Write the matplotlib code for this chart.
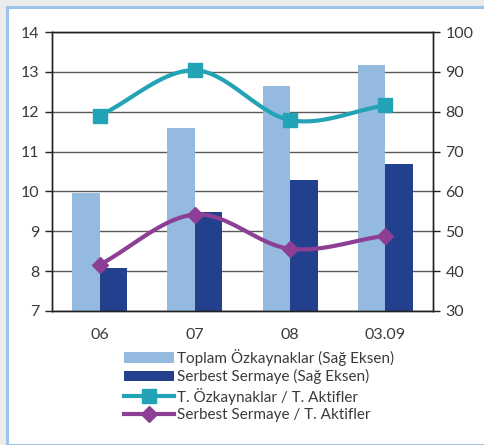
import numpy as np
import matplotlib
matplotlib.use("Agg")
import matplotlib.pyplot as plt
from matplotlib.patches import Rectangle
from matplotlib.lines import Line2D

# Data
categories = ["06", "07", "08", "03.09"]
toplam_ozkaynak = [59.6, 76.0, 86.5, 91.7]      # right axis
serbest_sermaye = [40.9, 54.8, 62.8, 67.0]      # right axis
ozk_aktif = [11.90, 13.04, 11.79, 12.16]        # left axis
serbest_aktif = [8.16, 9.42, 8.56, 8.89]        # left axis

labels = ["Toplam Özkaynaklar (Sağ Eksen)",
          "Serbest Sermaye (Sağ Eksen)",
          "T. Özkaynaklar / T. Aktifler",
          "Serbest Sermaye / T. Aktifler"]

c_light = "#95badf"
c_dark = "#23408e"
c_teal = "#23a3b6"
c_purple = "#8c3f95"
txt = "#3a3a3a"

plt.rcParams["font.family"] = ["Lato", "DejaVu Sans"]


def smooth(xs, ys, n=40):
    """Catmull-Rom curve through the given points."""
    xs = np.asarray(xs, float)
    ys = np.asarray(ys, float)
    px = np.concatenate([[2 * xs[0] - xs[1]], xs, [2 * xs[-1] - xs[-2]]])
    py = np.concatenate([[2 * ys[0] - ys[1]], ys, [2 * ys[-1] - ys[-2]]])
    ox, oy = [], []
    t = np.linspace(0, 1, n)
    for i in range(1, len(px) - 2):
        for p, o in ((px, ox), (py, oy)):
            p0, p1, p2, p3 = p[i - 1], p[i], p[i + 1], p[i + 2]
            seg = 0.5 * ((2 * p1) + (-p0 + p2) * t
                         + (2 * p0 - 5 * p1 + 4 * p2 - p3) * t ** 2
                         + (-p0 + 3 * p1 - 3 * p2 + p3) * t ** 3)
            o.extend(seg if i == 1 else seg[1:])
    return np.array(ox), np.array(oy)


fig = plt.figure(figsize=(4.84, 4.45), dpi=100)
fig.patch.set_facecolor("#ebebeb")
# white panel with a light-blue frame
fig.patches.append(Rectangle((7 / 484, 0), 1, 1 - 7 / 445, transform=fig.transFigure,
                             facecolor="white", edgecolor="#9cc3e8", linewidth=2.2,
                             zorder=-5))

ax_b = fig.add_axes([52 / 484, 1 - 311 / 445, 381 / 484, 279 / 445])
ax_l = ax_b.twinx()
ax_b.patch.set_visible(False)

x = np.arange(len(categories))
w = 0.29
h1 = ax_b.bar(x - w / 2, toplam_ozkaynak, width=w, color=c_light, zorder=2)
h2 = ax_b.bar(x + w / 2, serbest_sermaye, width=w, color=c_dark, zorder=2)
ax_b.set_ylim(30, 100)
ax_b.set_yticks(np.arange(30, 101, 10))
ax_b.set_xlim(-0.5, len(categories) - 0.5)
ax_b.set_xticks(x)
ax_b.set_xticklabels(categories)
ax_b.yaxis.grid(True, color="#5a5a5a", linewidth=1.0, zorder=0)
ax_b.set_axisbelow(True)

ax_l.set_ylim(7, 14)
ax_l.set_yticks(np.arange(7, 15, 1))

sx, sy = smooth(x, ozk_aktif)
ax_l.plot(sx, sy, color=c_teal, lw=3.0, solid_capstyle="round")
ax_l.plot(x, ozk_aktif, ls="none", marker="s", ms=9.5, color=c_teal)
sx, sy = smooth(x, serbest_aktif)
ax_l.plot(sx, sy, color=c_purple, lw=3.0, solid_capstyle="round")
ax_l.plot(x, serbest_aktif, ls="none", marker="D", ms=8, color=c_purple)

# left axis for ratios, right axis for amounts
ax_b.yaxis.tick_right()
ax_l.yaxis.tick_left()
for a in (ax_b, ax_l):
    for s in a.spines.values():
        s.set_color("#222222")
        s.set_linewidth(1.0)
    a.tick_params(axis="y", direction="out", length=5, width=1.0, color="#222222",
                  labelsize=11.5, labelcolor=txt, pad=4)
ax_b.tick_params(axis="x", length=0, labelsize=11.5, labelcolor=txt, pad=12)

handles = [h1, h2,
           Line2D([], [], color=c_teal, lw=3.0, marker="s", ms=9.5),
           Line2D([], [], color=c_purple, lw=3.0, marker="D", ms=8)]
leg = fig.legend(handles, labels, loc="upper left",
                 bbox_to_anchor=(124 / 484, 1 - 349 / 445), frameon=False,
                 fontsize=11, handlelength=3.3, handletextpad=0.2,
                 labelspacing=0.22, borderaxespad=0, borderpad=0)
for t in leg.get_texts():
    t.set_color(txt)

fig.savefig("out.png", dpi=100, facecolor=fig.get_facecolor())
